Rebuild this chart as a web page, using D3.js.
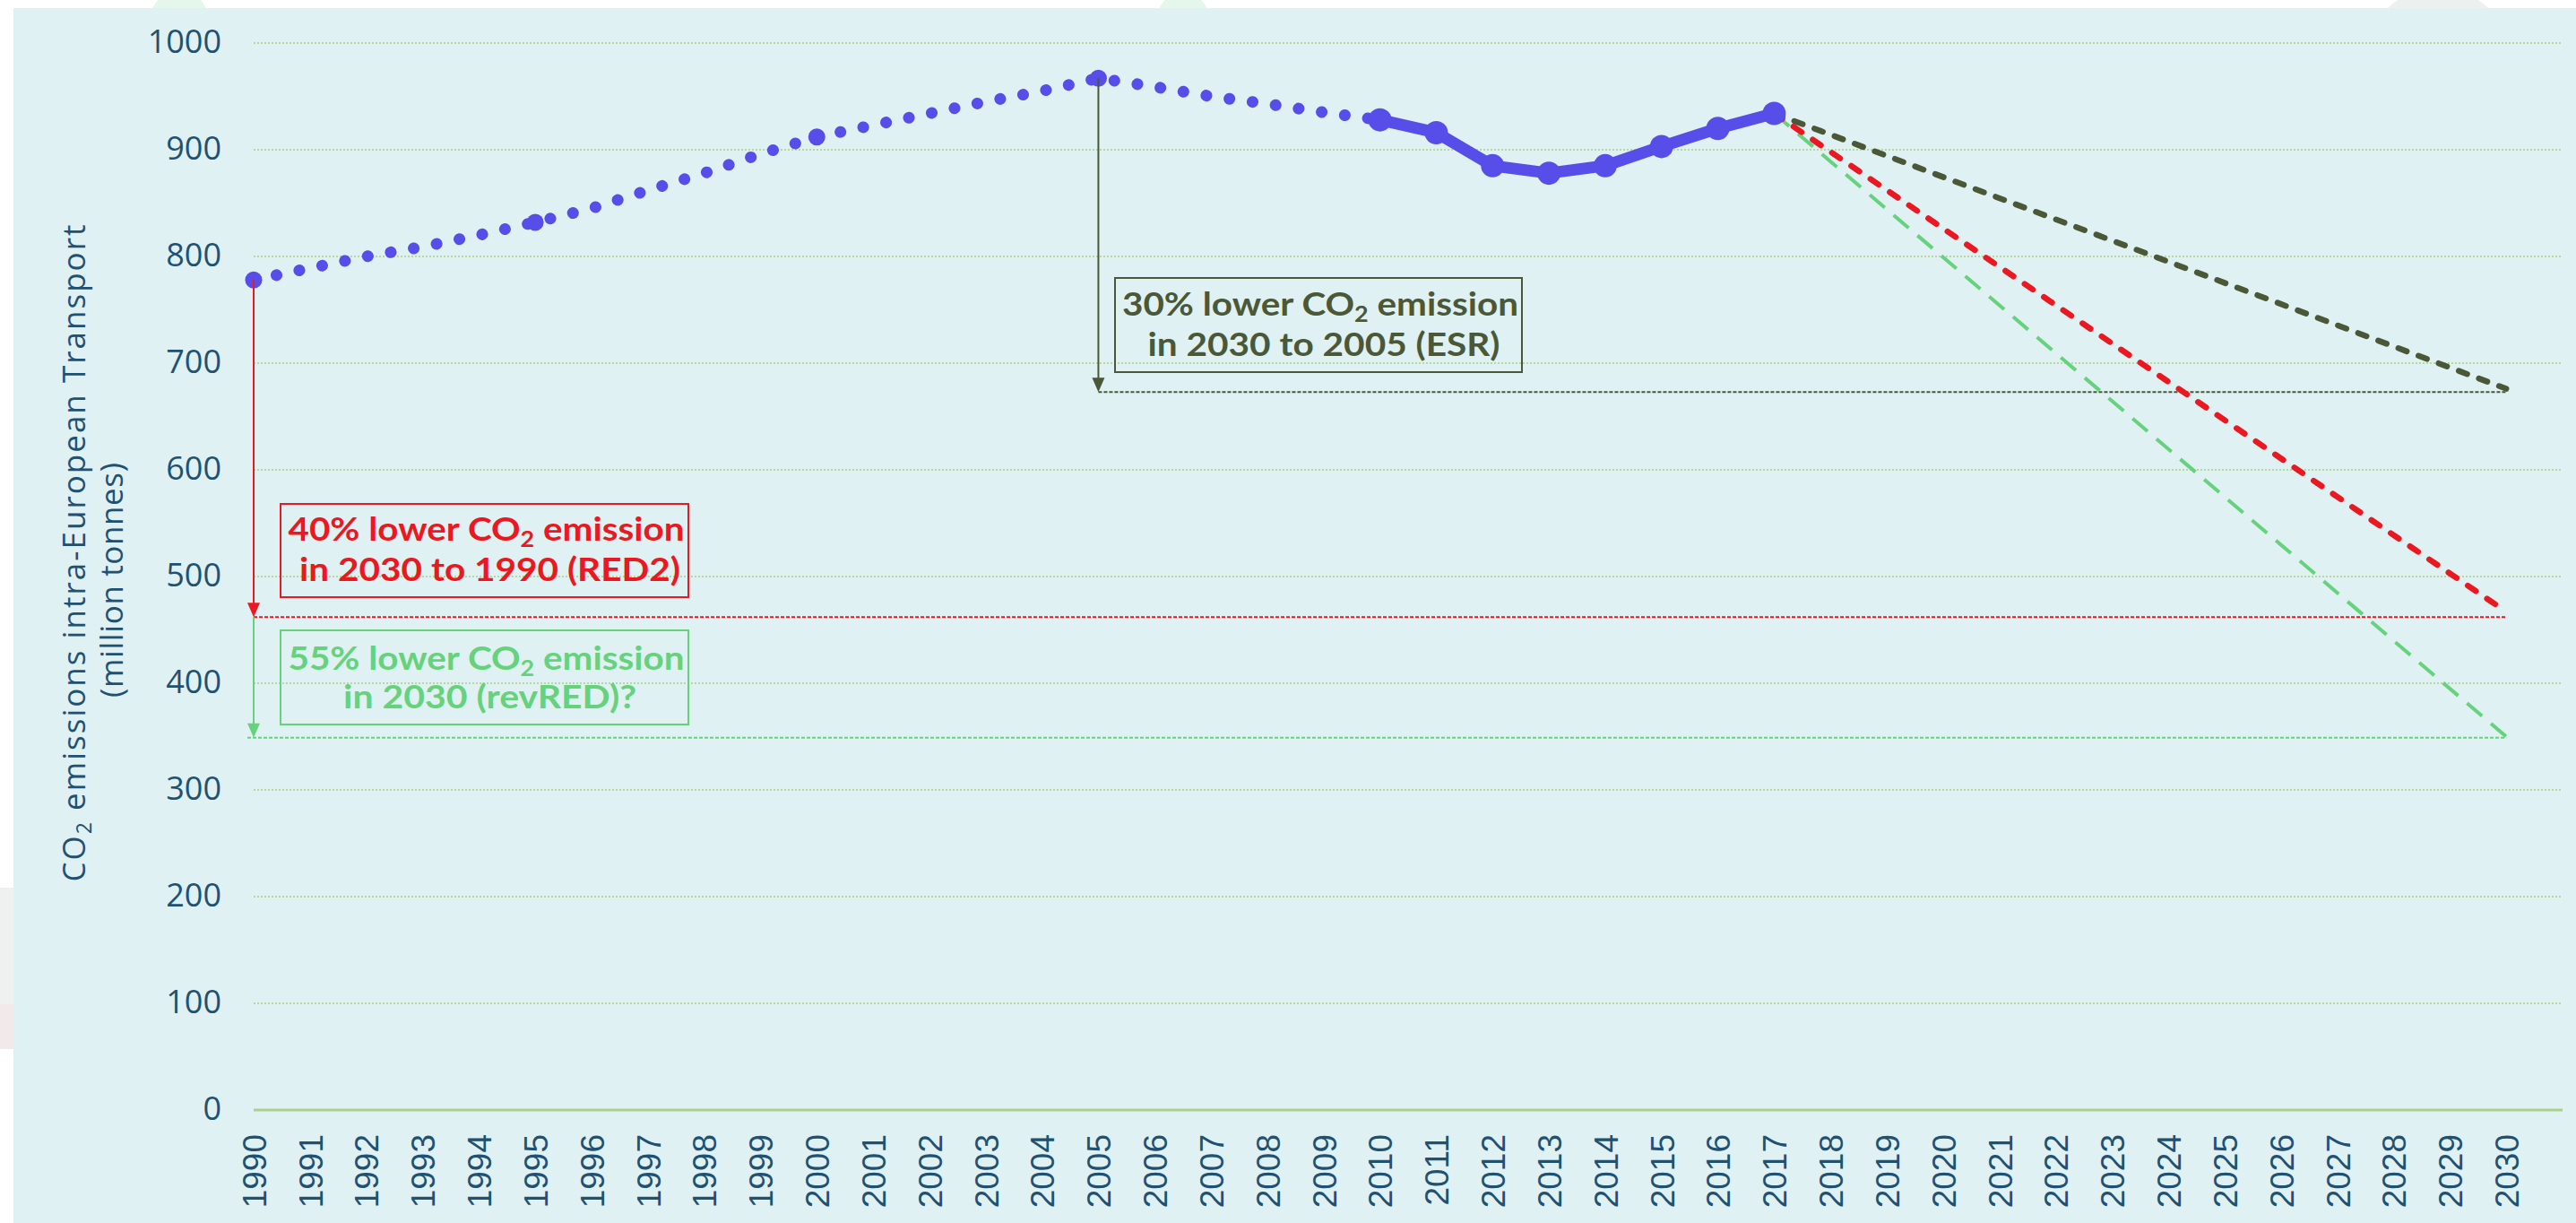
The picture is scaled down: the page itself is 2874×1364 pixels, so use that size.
<!DOCTYPE html>
<html>
<head>
<meta charset="utf-8">
<script src="https://cdn.jsdelivr.net/npm/d3@7"></script>
<style>
html, body { margin: 0; padding: 0; background: #fff; }
svg { display: block; }
</style>
</head>
<body>
<svg id="chart" width="2874" height="1364"></svg>
<script>
// CO2 emissions intra-European transport, million tonnes
var dottedYears  = [1990, 1991, 1992, 1993, 1994, 1995, 1996, 1997, 1998, 1999, 2000,
                    2001, 2002, 2003, 2004, 2005, 2006, 2007, 2008, 2009, 2010];
var dottedValues = [778, 789, 800, 809, 820, 832, 845, 862, 878, 896, 912,
                    923, 934, 945, 955, 967, 959, 950, 943, 935, 928];
var markerYears  = [1990, 1995, 2000, 2005, 2010];

var solidYears  = [2010, 2011, 2012, 2013, 2014, 2015, 2016, 2017];
var solidValues = [928, 916, 885, 878, 885, 903, 920, 934];

// straight projections 2017 -> 2030
var projYears  = [2017, 2030];
var esrProj    = [934, 676];
var red2Proj   = [934, 467];
var revRedProj = [934, 350];

// target levels
var esrTarget = 673, red2Target = 462, revRedTarget = 349;

var tickYears = [1990, 1991, 1992, 1993, 1994, 1995, 1996, 1997, 1998, 1999, 2000,
                 2001, 2002, 2003, 2004, 2005, 2006, 2007, 2008, 2009, 2010,
                 2011, 2012, 2013, 2014, 2015, 2016, 2017, 2018, 2019, 2020,
                 2021, 2022, 2023, 2024, 2025, 2026, 2027, 2028, 2029, 2030];
var yTicks = [0, 100, 200, 300, 400, 500, 600, 700, 800, 900, 1000];

var blue = "#574de8", red = "#ea1820", lightGreen = "#66d27c", darkGreen = "#4a5838";
var labelColor = "#1f5272";

var svg = d3.select("#chart");

// faint background decorations behind the panel
svg.append("ellipse").attr("cx", 200).attr("cy", 20).attr("rx", 32).attr("ry", 30).attr("fill", "#e4f7ea");
svg.append("ellipse").attr("cx", 1320).attr("cy", 18).attr("rx", 28).attr("ry", 26).attr("fill", "#e4f7ea");
svg.append("ellipse").attr("cx", 2720).attr("cy", 20).attr("rx", 60).attr("ry", 30).attr("fill", "#ecf0ee");
svg.append("rect").attr("x", 0).attr("y", 990).attr("width", 20).attr("height", 130).attr("fill", "#eef1ef");
svg.append("rect").attr("x", 0).attr("y", 1120).attr("width", 20).attr("height", 50).attr("fill", "#f1e9ea");

// panel
svg.append("rect").attr("x", 15).attr("y", 9).attr("width", 2874 - 15).attr("height", 1364 - 9)
    .attr("fill", "#dff1f3");

var x = d3.scaleLinear().domain([1990, 2031]).range([283, 2859]);
var y = d3.scaleLinear().domain([0, 1000]).range([1238, 48]);

// gridlines
svg.append("g").selectAll("line")
    .data(yTicks.filter(function(d) { return d > 0; }))
    .enter().append("line")
    .attr("x1", x(1990)).attr("x2", x(2031))
    .attr("y1", function(d) { return y(d); })
    .attr("y2", function(d) { return y(d); })
    .attr("stroke", "#b4d99b")
    .attr("stroke-width", 2)
    .attr("stroke-dasharray", "2 2");

svg.append("line")
    .attr("x1", x(1990)).attr("x2", x(2031))
    .attr("y1", y(0)).attr("y2", y(0))
    .attr("stroke", "#a9d18e").attr("stroke-width", 3);

// axes
var yAxis = svg.append("g")
    .attr("transform", "translate(" + x(1990) + ",0)")
    .call(d3.axisLeft(y).tickValues(yTicks).tickFormat(d3.format("d")).tickSize(0).tickPadding(36));
yAxis.select(".domain").remove();
yAxis.selectAll("text")
    .attr("fill", labelColor)
    .attr("font-family", "'Open Sans', sans-serif")
    .attr("font-size", 36)
    .attr("dy", "0.28em");

var xAxis = svg.append("g")
    .attr("transform", "translate(0," + y(0) + ")")
    .call(d3.axisBottom(x).tickValues(tickYears).tickFormat(d3.format("d")).tickSize(0));
xAxis.select(".domain").remove();
xAxis.selectAll("text")
    .attr("fill", labelColor)
    .attr("font-family", "'Liberation Sans', Arial, sans-serif")
    .attr("font-size", 37)
    .attr("text-anchor", "end")
    .attr("transform", "rotate(-90)")
    .attr("x", -27)
    .attr("y", 0)
    .attr("dy", "0.36em");

// y axis title
var title1 = svg.append("text")
    .attr("transform", "translate(95,617) rotate(-90)")
    .attr("text-anchor", "middle")
    .attr("fill", labelColor)
    .attr("font-family", "'Open Sans', sans-serif")
    .attr("font-size", 35)
    .attr("textLength", 733)
    .attr("lengthAdjust", "spacing");
title1.append("tspan").text("CO");
title1.append("tspan").attr("font-size", 23).attr("dy", 7).text("2");
title1.append("tspan").attr("dy", -7).text(" emissions intra-European Transport");

svg.append("text")
    .attr("transform", "translate(137,647) rotate(-90)")
    .attr("text-anchor", "middle")
    .attr("fill", labelColor)
    .attr("font-family", "'Open Sans', sans-serif")
    .attr("font-size", 35)
    .attr("textLength", 262)
    .attr("lengthAdjust", "spacing")
    .text("(million tonnes)");

// target reference lines
function hLine(x0, value, color) {
    svg.append("line")
        .attr("x1", x0).attr("x2", x(2030))
        .attr("y1", y(value)).attr("y2", y(value))
        .attr("stroke", color).attr("stroke-width", 2)
        .attr("stroke-dasharray", "4 2");
}
hLine(x(1990), red2Target, red);
hLine(x(1990) - 7, revRedTarget, lightGreen);
hLine(x(2005), esrTarget, darkGreen);

// arrows
function arrow(year, from, to, color) {
    var ax = x(year), y0 = y(from), y1 = y(to);
    svg.append("line")
        .attr("x1", ax).attr("x2", ax)
        .attr("y1", y0).attr("y2", y1 - 14)
        .attr("stroke", color).attr("stroke-width", 2);
    svg.append("path")
        .attr("d", "M" + (ax - 7) + "," + (y1 - 16) + "L" + (ax + 7) + "," + (y1 - 16) + "L" + ax + "," + y1 + "Z")
        .attr("fill", color);
}

// projections
var proj = d3.line()
    .x(function(d) { return x(d[0]); })
    .y(function(d) { return y(d[1]); });

function projLine(values, color, width, dash, cap) {
    svg.append("path")
        .datum(d3.zip(projYears, values))
        .attr("d", proj)
        .attr("fill", "none")
        .attr("stroke", color)
        .attr("stroke-width", width)
        .attr("stroke-dasharray", dash)
        .attr("stroke-linecap", cap);
}
projLine(revRedProj, lightGreen, 4, "22 13", "butt");
projLine(red2Proj, red, 6.5, "11 15", "round");
projLine(esrProj, darkGreen, 6.5, "10 14", "round");

// historical series
var line = d3.line()
    .x(function(d) { return x(d[0]); })
    .y(function(d) { return y(d[1]); });

svg.append("path")
    .datum(d3.zip(dottedYears, dottedValues))
    .attr("d", line)
    .attr("fill", "none")
    .attr("stroke", blue)
    .attr("stroke-width", 13)
    .attr("stroke-linecap", "round")
    .attr("stroke-dasharray", "0.1 25.9");

svg.append("path")
    .datum(d3.zip(solidYears, solidValues))
    .attr("d", line)
    .attr("fill", "none")
    .attr("stroke", blue)
    .attr("stroke-width", 13)
    .attr("stroke-linejoin", "round");

svg.append("g").selectAll("circle")
    .data(markerYears)
    .enter().append("circle")
    .attr("cx", function(d) { return x(d); })
    .attr("cy", function(d) { return y(dottedValues[dottedYears.indexOf(d)]); })
    .attr("r", 9.5)
    .attr("fill", blue);

svg.append("g").selectAll("circle")
    .data(d3.zip(solidYears, solidValues))
    .enter().append("circle")
    .attr("cx", function(d) { return x(d[0]); })
    .attr("cy", function(d) { return y(d[1]); })
    .attr("r", 13)
    .attr("fill", blue);

arrow(1990, dottedValues[0], red2Target, red);
arrow(1990, red2Target, revRedTarget, lightGreen);
arrow(2005, dottedValues[dottedYears.indexOf(2005)], esrTarget, darkGreen);

// annotation boxes
function box(x0, y0, x1, y1, color, pct, line2, base1, base2, len2) {
    svg.append("rect")
        .attr("x", x0).attr("y", y0)
        .attr("width", x1 - x0).attr("height", y1 - y0)
        .attr("fill", "none").attr("stroke", color).attr("stroke-width", 2);
    var cx = (x0 + x1) / 2 + 2;
    var t = svg.append("text")
        .attr("x", cx).attr("y", base1)
        .attr("text-anchor", "middle")
        .attr("fill", color)
        .attr("font-family", "Lato, sans-serif")
        .attr("font-weight", "bold")
        .attr("font-size", 36)
        .attr("textLength", 442)
        .attr("lengthAdjust", "spacingAndGlyphs");
    t.append("tspan").text(pct + " lower CO");
    t.append("tspan").attr("font-size", 24).attr("dy", 7).text("2");
    t.append("tspan").attr("dy", -7).text(" emission");
    svg.append("text")
        .attr("x", cx + 4).attr("y", base2)
        .attr("text-anchor", "middle")
        .attr("fill", color)
        .attr("font-family", "Lato, sans-serif")
        .attr("font-weight", "bold")
        .attr("font-size", 36)
        .attr("textLength", len2)
        .attr("lengthAdjust", "spacingAndGlyphs")
        .text(line2);
}
box(313, 562, 768, 666, red, "40%", "in 2030 to 1990 (RED2)", 603, 648, 425);
box(313, 703, 768, 808, lightGreen, "55%", "in 2030 (revRED)?", 747, 790, 327);
box(1244, 310, 1698, 415, darkGreen, "30%", "in 2030 to 2005 (ESR)", 352, 397, 393);
</script>
</body>
</html>
